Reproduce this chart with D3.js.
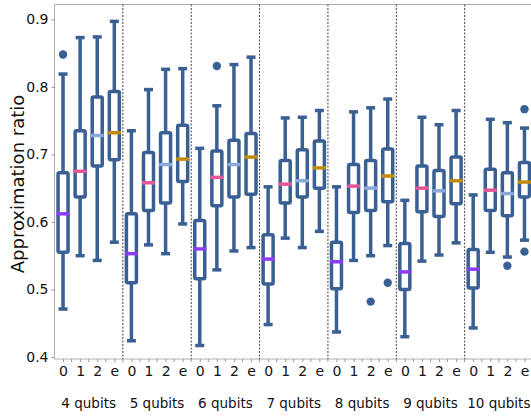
<!DOCTYPE html>
<html>
<head>
<meta charset="utf-8">
<script src="https://cdnjs.cloudflare.com/ajax/libs/d3/7.8.5/d3.min.js"></script>
<style>
  body { margin: 0; background: #fff; }
  svg { display: block; font-family: "DejaVu Sans", sans-serif; }
  svg text { font-family: "DejaVu Sans", sans-serif; fill: #111; }
  .divider { stroke: #444; stroke-dasharray: 2,1.5; stroke-width: 1; }
</style>
</head>
<body>
<svg width="531" height="417"></svg>
<script>

var groups = ["4 qubits", "5 qubits", "6 qubits", "7 qubits", "8 qubits", "9 qubits", "10 qubits"];
var methods = ["0", "1", "2", "e"];
var medianColors = ["#8b3cf5", "#e6579a", "#89a9dc", "#c38b0c"];

// one row per group, one entry per method (0, 1, 2, e)
var whiskerLow = [
  [0.471, 0.550, 0.543, 0.570],
  [0.424, 0.566, 0.553, 0.597],
  [0.417, 0.529, 0.557, 0.562],
  [0.448, 0.576, 0.562, 0.586],
  [0.437, 0.543, 0.550, 0.565],
  [0.430, 0.542, 0.551, 0.569],
  [0.443, 0.555, 0.548, 0.573]
];
var q1 = [
  [0.555, 0.637, 0.683, 0.692],
  [0.510, 0.617, 0.628, 0.660],
  [0.516, 0.624, 0.637, 0.641],
  [0.508, 0.628, 0.637, 0.650],
  [0.501, 0.614, 0.617, 0.630],
  [0.500, 0.615, 0.608, 0.627],
  [0.502, 0.617, 0.609, 0.637]
];
var medians = [
  [0.612, 0.675, 0.728, 0.732],
  [0.553, 0.658, 0.685, 0.693],
  [0.560, 0.666, 0.685, 0.696],
  [0.545, 0.656, 0.661, 0.680],
  [0.541, 0.653, 0.650, 0.668],
  [0.526, 0.650, 0.646, 0.661],
  [0.530, 0.647, 0.642, 0.659]
];
var q3 = [
  [0.673, 0.735, 0.785, 0.793],
  [0.612, 0.703, 0.732, 0.743],
  [0.602, 0.705, 0.721, 0.731],
  [0.581, 0.691, 0.707, 0.720],
  [0.570, 0.685, 0.691, 0.708],
  [0.568, 0.683, 0.676, 0.696],
  [0.559, 0.678, 0.673, 0.688]
];
var whiskerHigh = [
  [0.819, 0.873, 0.874, 0.897],
  [0.735, 0.796, 0.826, 0.827],
  [0.709, 0.772, 0.833, 0.844],
  [0.652, 0.754, 0.755, 0.765],
  [0.652, 0.763, 0.769, 0.782],
  [0.632, 0.755, 0.744, 0.765],
  [0.640, 0.752, 0.747, 0.739]
];
// [group, method, value]
var outliers = [
  [0, 0, 0.848],
  [2, 1, 0.831],
  [4, 2, 0.482],
  [4, 3, 0.510],
  [6, 2, 0.535],
  [6, 3, 0.767],
  [6, 3, 0.556]
];
var yTicks = [0.4, 0.5, 0.6, 0.7, 0.8, 0.9];

var svg = d3.select("svg");
var plotLeft = 54.5, plotRight = 533, plotTop = 4.5, plotBottom = 359;
var blue = "#3a5f93";

var x = d3.scaleLinear().domain([-0.5, groups.length * methods.length - 0.5]).range([plotLeft, plotRight]);
var y = d3.scaleLinear().domain([0.397, 0.922]).range([plotBottom, plotTop]);

function pos(g, m) { return g * methods.length + m; }

var boxes = [];
for (var g = 0; g < groups.length; g++) {
  for (var m = 0; m < methods.length; m++) {
    boxes.push({g: g, m: m, lo: whiskerLow[g][m], q1: q1[g][m], med: medians[g][m], q3: q3[g][m], hi: whiskerHigh[g][m]});
  }
}

// spines
svg.append("line").attr("x1", plotLeft).attr("x2", 531).attr("y1", plotTop).attr("y2", plotTop).attr("stroke", "#b0b0b0");
svg.append("line").attr("x1", plotLeft).attr("x2", plotLeft).attr("y1", plotTop).attr("y2", plotBottom).attr("stroke", "#b0b0b0");
svg.append("line").attr("x1", plotLeft).attr("x2", 531).attr("y1", plotBottom).attr("y2", plotBottom).attr("stroke", "#b0b0b0");

// group dividers
svg.append("g").selectAll("line")
  .data(d3.range(1, groups.length))
  .enter().append("line")
  .attr("class", "divider")
  .attr("x1", function(d) { return x(d * methods.length - 0.5); })
  .attr("x2", function(d) { return x(d * methods.length - 0.5); })
  .attr("y1", plotTop)
  .attr("y2", plotBottom);

// y axis
var yAxis = svg.append("g")
  .attr("transform", "translate(" + plotLeft + ",0)")
  .call(d3.axisLeft(y).tickValues(yTicks).tickFormat(d3.format(".1f")).tickSize(3).tickPadding(3));
yAxis.select(".domain").remove();
yAxis.selectAll(".tick line").attr("stroke", "#999");
yAxis.selectAll("text").style("font-size", "14px");

// x axis: ticks at each box plus minor ticks between
var xAxis = svg.append("g")
  .attr("transform", "translate(0," + plotBottom + ")")
  .call(d3.axisBottom(x).tickValues(d3.range(boxes.length)).tickFormat(function(d) { return methods[d % methods.length]; }).tickSize(3).tickPadding(4));
xAxis.select(".domain").remove();
xAxis.selectAll(".tick line").attr("stroke", "#999");
xAxis.selectAll("text").style("font-size", "14px");
svg.append("g").selectAll("line")
  .data(d3.range(boxes.length - 1))
  .enter().append("line")
  .attr("x1", function(d) { return x(d + 0.5); })
  .attr("x2", function(d) { return x(d + 0.5); })
  .attr("y1", plotBottom)
  .attr("y2", plotBottom + 3)
  .attr("stroke", "#999");

// group labels
svg.append("g").selectAll("text")
  .data(groups)
  .enter().append("text")
  .attr("x", function(d, i) { return x(pos(i, 1.5)); })
  .attr("y", 408)
  .attr("text-anchor", "middle")
  .style("font-size", "13.5px")
  .text(function(d) { return d; });

svg.append("text")
  .attr("transform", "translate(24,184) rotate(-90)")
  .attr("text-anchor", "middle")
  .style("font-size", "18px")
  .text("Approximation ratio");

// boxes
var bw = 10, cw = 9;
var box = svg.append("g").selectAll("g")
  .data(boxes)
  .enter().append("g")
  .attr("transform", function(d) { return "translate(" + x(pos(d.g, d.m)) + ",0)"; });

box.append("line")
  .attr("y1", function(d) { return y(d.hi); })
  .attr("y2", function(d) { return y(d.q3); })
  .attr("stroke", blue).attr("stroke-width", 3.5);
box.append("line")
  .attr("y1", function(d) { return y(d.q1); })
  .attr("y2", function(d) { return y(d.lo); })
  .attr("stroke", blue).attr("stroke-width", 3.5);
box.append("line")
  .attr("x1", -cw / 2).attr("x2", cw / 2)
  .attr("y1", function(d) { return y(d.hi); })
  .attr("y2", function(d) { return y(d.hi); })
  .attr("stroke", blue).attr("stroke-width", 3.5);
box.append("line")
  .attr("x1", -cw / 2).attr("x2", cw / 2)
  .attr("y1", function(d) { return y(d.lo); })
  .attr("y2", function(d) { return y(d.lo); })
  .attr("stroke", blue).attr("stroke-width", 3.5);
box.append("rect")
  .attr("x", -bw / 2)
  .attr("width", bw)
  .attr("y", function(d) { return y(d.q3); })
  .attr("height", function(d) { return y(d.q1) - y(d.q3); })
  .attr("rx", 1.5)
  .attr("fill", "#fff")
  .attr("stroke", blue).attr("stroke-width", 3.5);
box.append("line")
  .attr("x1", -bw / 2 - 1.5).attr("x2", bw / 2 + 1.5)
  .attr("y1", function(d) { return y(d.med); })
  .attr("y2", function(d) { return y(d.med); })
  .attr("stroke", function(d) { return medianColors[d.m]; })
  .attr("stroke-width", 3.5);

svg.append("g").selectAll("circle")
  .data(outliers)
  .enter().append("circle")
  .attr("cx", function(d) { return x(pos(d[0], d[1])); })
  .attr("cy", function(d) { return y(d[2]); })
  .attr("r", 4.2)
  .attr("fill", blue);

</script>
</body>
</html>
